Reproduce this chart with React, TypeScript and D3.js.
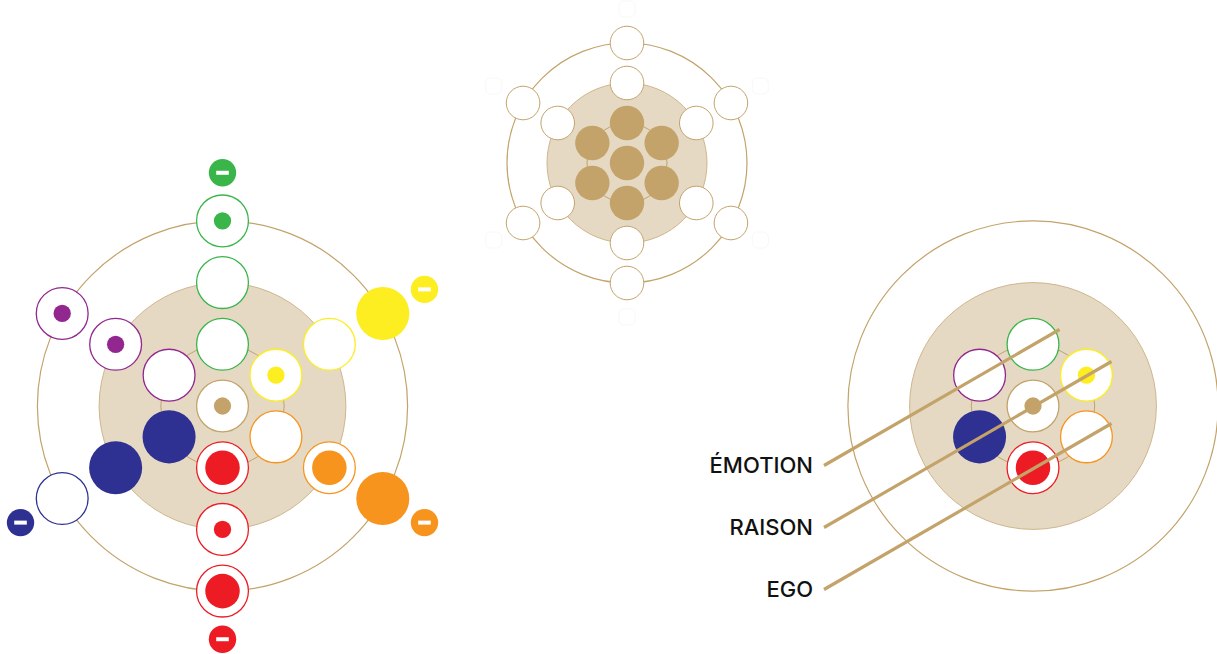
import React, { useEffect, useRef } from 'react';
import * as d3 from 'd3';

// spokes of the hex lattice, clockwise from the top
const SPOKES = ['vert', 'jaune', 'orange', 'rouge', 'bleu', 'violet'];
const SPOKE_COLORS = ['#39b54a', '#fcee21', '#f7941d', '#ed1c24', '#2e3192', '#92278f'];
// fill level of each circle: 0 empty, 1 small dot, 2 large dot, 3 full
const CENTER_LEVEL = 1;
const RING1 = [0, 1, 0, 2, 3, 0];
const RING2 = [0, 0, 2, 1, 3, 1];
const RING3 = [1, 3, 3, 2, 0, 1];
const BADGES = [1, 1, 1, 1, 1, 0];
const LABELS = ['ÉMOTION', 'RAISON', 'EGO'];
const LABEL_LINE_LENGTHS = [272, 332, 332];

const TAN = '#c3a36a';
const BEIGE = '#e5d9c3';

type G = d3.Selection<SVGGElement, unknown, null, undefined>;

function spokeAngle(i: number) {
    return -Math.PI / 2 + (i * Math.PI) / 3;
}

function frame(g: G, s: number) {
    g.append('circle').attr('r', 3 * s).attr('fill', 'none').attr('stroke', TAN).attr('stroke-width', 1.2);
    g.append('circle').attr('r', 2 * s).attr('fill', BEIGE).attr('stroke', '#cfb68c').attr('stroke-width', 1);
    g.append('circle').attr('r', s).attr('fill', 'none').attr('stroke', TAN).attr('stroke-width', 1);
}

function levelCircle(g: G, x: number, y: number, s: number, level: number, color: string) {
    const r = 0.42 * s;
    const dot = d3.scaleOrdinal<number, number>().domain([0, 1, 2, 3]).range([0, 0.14 * s, 0.28 * s, 0.43 * s]);
    if (level === 3) {
        g.append('circle').attr('cx', x).attr('cy', y).attr('r', dot(3)).attr('fill', color);
        return;
    }
    g.append('circle').attr('cx', x).attr('cy', y).attr('r', r)
        .attr('fill', '#fff').attr('stroke', color).attr('stroke-width', 1.3);
    if (level > 0) {
        g.append('circle').attr('cx', x).attr('cy', y).attr('r', dot(level)).attr('fill', color);
    }
}

function badge(g: G, x: number, y: number, color: string) {
    g.append('circle').attr('cx', x).attr('cy', y).attr('r', 13.7).attr('fill', color);
    g.append('rect').attr('x', x - 6.3).attr('y', y - 2).attr('width', 12.6).attr('height', 4).attr('fill', '#fff');
}

export default function App() {
    const svgRef = useRef<SVGSVGElement>(null);

    useEffect(() => {
        if (!svgRef.current) return;
        const svg = d3.select(svgRef.current);
        svg.selectAll('*').remove();

        const rings = [RING1, RING2, RING3];

        // Left: full diagram
        {
            const s = 61.7;
            const dist = d3.scaleLinear().domain([0, 1]).range([0, s]);
            const g = svg.append('g').attr('transform', 'translate(222.5,406)');
            frame(g, s);
            levelCircle(g, 0, 0, s, CENTER_LEVEL, TAN);
            rings.forEach((ring, k) => {
                ring.forEach((lv, i) => {
                    const a = spokeAngle(i);
                    levelCircle(g, dist(k + 1) * Math.cos(a), dist(k + 1) * Math.sin(a), s, lv, SPOKE_COLORS[i]);
                });
            });
            BADGES.forEach((b, i) => {
                if (!b) return;
                const a = spokeAngle(i);
                badge(g, dist(3.78) * Math.cos(a), dist(3.78) * Math.sin(a), SPOKE_COLORS[i]);
            });
        }

        // Middle: neutral template
        {
            const s = 40;
            const dist = d3.scaleLinear().domain([0, 1]).range([0, s]);
            const g = svg.append('g').attr('transform', 'translate(627,163)');
            frame(g, s);
            SPOKES.forEach((_, i) => {
                const a = spokeAngle(i);
                g.append('rect')
                    .attr('x', dist(3.85) * Math.cos(a) - 8).attr('y', dist(3.85) * Math.sin(a) - 8)
                    .attr('width', 16).attr('height', 16).attr('rx', 5)
                    .attr('fill', '#fff').attr('stroke', '#f8f8f8').attr('stroke-width', 1);
            });
            g.append('circle').attr('r', 0.43 * s).attr('fill', TAN);
            rings.forEach((ring, k) => {
                ring.forEach((_, i) => {
                    const a = spokeAngle(i);
                    const x = dist(k + 1) * Math.cos(a);
                    const y = dist(k + 1) * Math.sin(a);
                    if (k === 0) {
                        g.append('circle').attr('cx', x).attr('cy', y).attr('r', 0.43 * s).attr('fill', TAN);
                    } else {
                        g.append('circle').attr('cx', x).attr('cy', y).attr('r', 0.42 * s)
                            .attr('fill', '#fff').attr('stroke', TAN).attr('stroke-width', 1);
                    }
                });
            });
        }

        // Right: first ring with labels
        {
            const s = 61.7;
            const cx = 1033;
            const cy = 406;
            const dist = d3.scaleLinear().domain([0, 1]).range([0, s]);
            const g = svg.append('g').attr('transform', `translate(${cx},${cy})`);
            frame(g, s);
            levelCircle(g, 0, 0, s, CENTER_LEVEL, TAN);
            RING1.forEach((lv, i) => {
                const a = spokeAngle(i);
                levelCircle(g, dist(1) * Math.cos(a), dist(1) * Math.sin(a), s, lv, SPOKE_COLORS[i]);
            });

            const la = -Math.PI / 6;
            LABELS.forEach((label, k) => {
                const x0 = cx - 209;
                const y0 = cy + 59.5 + k * 62;
                const len = LABEL_LINE_LENGTHS[k];
                svg.append('line')
                    .attr('x1', x0).attr('y1', y0)
                    .attr('x2', x0 + len * Math.cos(la)).attr('y2', y0 + len * Math.sin(la))
                    .attr('stroke', TAN).attr('stroke-width', 3.2).attr('stroke-linecap', 'butt');
                svg.append('text')
                    .attr('x', x0 - 11).attr('y', y0 + 7.5)
                    .attr('text-anchor', 'end')
                    .style('font-family', 'Inter, sans-serif')
                    .style('font-weight', 500)
                    .style('font-size', '22px')
                    .attr('fill', '#111')
                    .text(label);
            });
        }
    }, []);

    return (
        <svg
            ref={svgRef}
            width={1217}
            height={654}
            viewBox="0 0 1217 654"
            style={{ position: 'absolute', left: 0, top: 0, background: '#fff' }}
        />
    );
}
